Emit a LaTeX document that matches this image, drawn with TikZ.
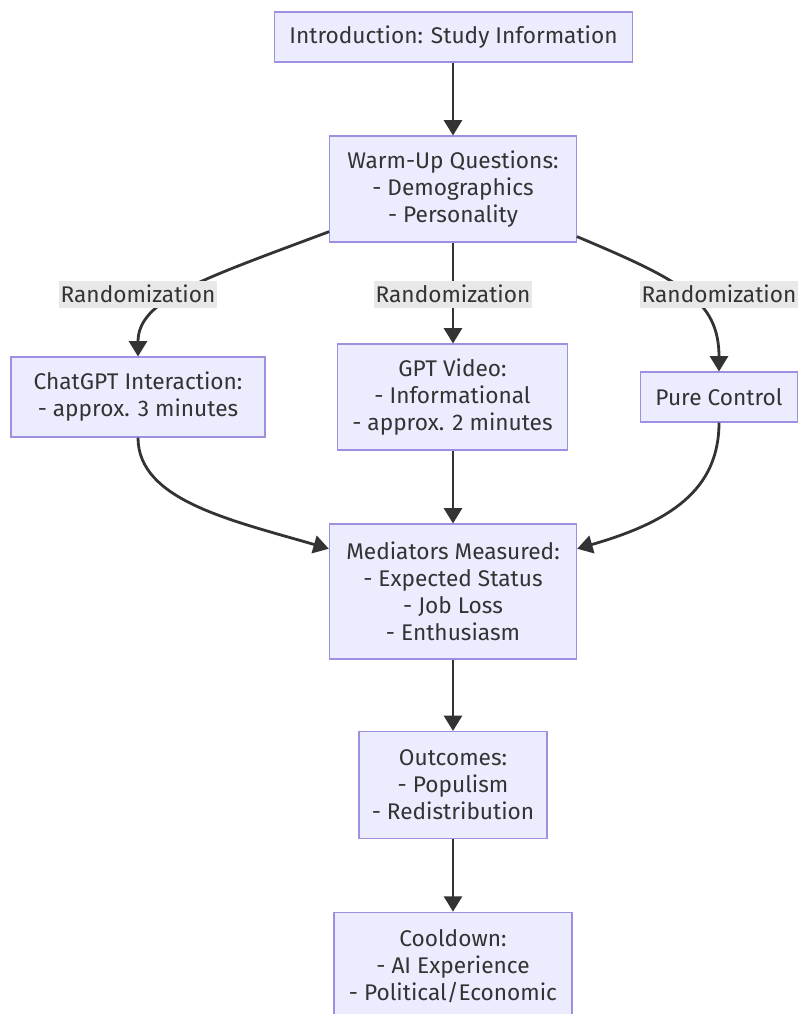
\documentclass[tikz,border=0pt]{standalone}
\usepackage{fontspec}
\setmainfont{Fira Sans}
\usetikzlibrary{arrows.meta}
\definecolor{boxfill}{HTML}{ECECFF}
\definecolor{boxdraw}{HTML}{9F8FE0}
\definecolor{txt}{HTML}{333333}
\definecolor{lblbg}{HTML}{E8E8E8}
\begin{document}
\begin{tikzpicture}[x=0.75pt,y=-0.75pt,
  box/.style={draw=boxdraw, fill=boxfill, line width=0.8pt, text=txt, align=center,
    inner sep=0pt, font=\fontsize{17}{20.25}\selectfont},
  lbl/.style={fill=lblbg, text=txt, inner xsep=1pt, inner ysep=0pt, minimum height=20.25pt,
    font=\fontsize{17}{20.25}\selectfont},
  conn/.style={draw=txt, line width=2.1pt, -{Triangle[length=11.5pt,width=13.5pt]}}]
\useasboundingbox (0,0) rectangle (798,1014);
\fill[white] (0,0) rectangle (798,1014);
% boxes
\node[box, minimum width=269pt, minimum height=37.5pt] (intro) at (453.5,37) {Introduction: Study Information};
\node[box, minimum width=185pt, minimum height=79.5pt] (warm) at (453,189) {Warm-Up Questions:\\- Demographics\\- Personality};
\node[box, minimum width=190.5pt, minimum height=60pt] (chat) at (138,397) {ChatGPT Interaction:\\- approx. 3 minutes};
\node[box, minimum width=173pt, minimum height=79.5pt] (video) at (452.5,397) {GPT Video:\\- Informational\\- approx. 2 minutes};
\node[box, minimum width=117.5pt, minimum height=37.5pt] (pure) at (719,397) {Pure Control};
\node[box, minimum width=185.5pt, minimum height=101.25pt] (med) at (453,591.5) {Mediators Measured:\\- Expected Status\\- Job Loss\\- Enthusiasm};
\node[box, minimum width=141pt, minimum height=80.25pt] (out) at (453,785) {Outcomes:\\- Populism\\- Redistribution};
\node[box, minimum width=178.5pt, minimum height=80.25pt] (cool) at (453,965.7) {Cooldown:\\- AI Experience\\- Political/Economic};
% connectors
\draw[conn] (intro.south -| warm.north) -- (warm.north);
\draw[conn] (warm.199) .. controls (200,280) and (138,300) .. (chat.north);
\draw[conn] (warm.south) -- (warm.south |- video.north);
\draw[conn] (warm.339) .. controls (680,280) and (719,300) .. (pure.north);
\draw[conn] (chat.south) .. controls (138,500) and (230,520) .. (med.161);
\draw[conn] (video.south -| med.north) -- (med.north);
\draw[conn] (pure.south) .. controls (719,490) and (670,522) .. (med.19);
\draw[conn] (med.south) -- (med.south |- out.north);
\draw[conn] (out.south) -- (out.south |- cool.north);
% labels
\node[lbl] (l1) at (138,294) {Randomization};
\node[lbl] (l2) at (453,294) {Randomization};
\node[lbl] (l3) at (719,294) {Randomization};
\end{tikzpicture}
\end{document}
